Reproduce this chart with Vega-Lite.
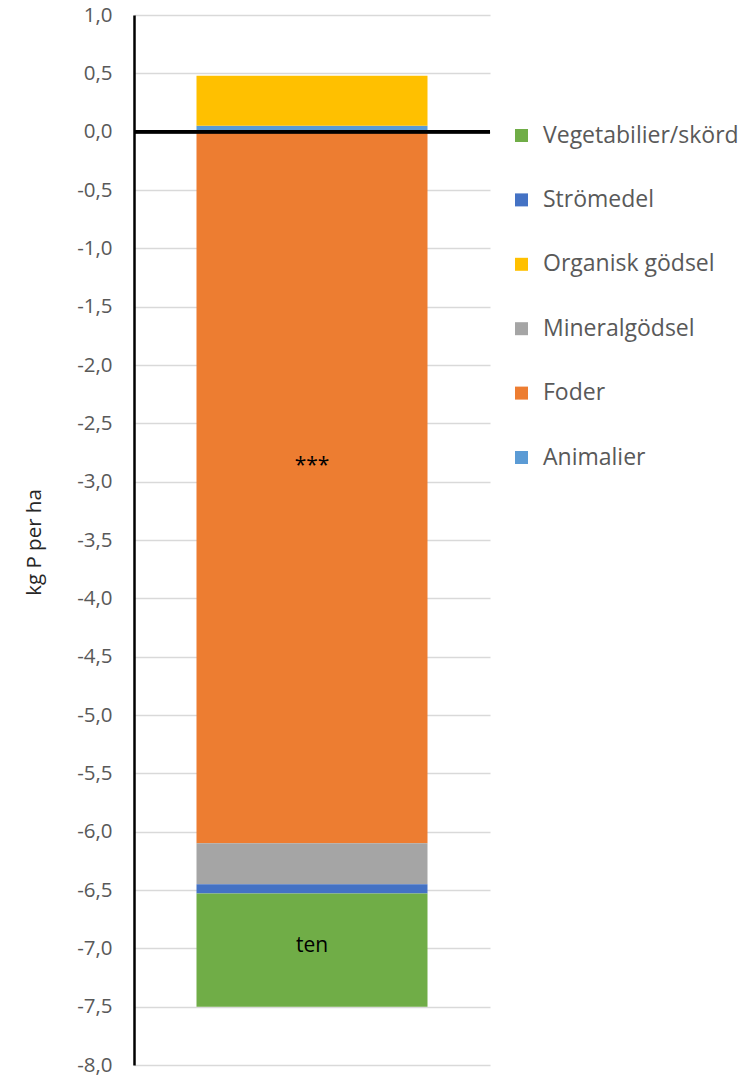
{
  "$schema": "https://vega.github.io/schema/vega-lite/v6.json",
  "autosize": "none",
  "width": 356,
  "height": 1050,
  "padding": {"left": 134, "top": 15, "right": 263, "bottom": 11},
  "background": "white",
  "config": {"view": {"stroke": null}, "font": "Open Sans"},
  "data": {"values": [
    {"serie": "Animalier", "ord": 1, "value": 0.05, "label": ""},
    {"serie": "Foder", "ord": 2, "value": -6.10, "label": "***"},
    {"serie": "Mineralgödsel", "ord": 3, "value": -0.35, "label": ""},
    {"serie": "Organisk gödsel", "ord": 4, "value": 0.43, "label": ""},
    {"serie": "Strömedel", "ord": 5, "value": -0.08, "label": ""},
    {"serie": "Vegetabilier/skörd", "ord": 6, "value": -0.97, "label": "ten"}
  ]},
  "encoding": {
    "x": {"datum": "A", "type": "nominal", "axis": null, "scale": {"paddingInner": 0, "paddingOuter": 0}}
  },
  "layer": [
    {
      "mark": {"type": "bar", "width": 231},
      "encoding": {
        "y": {
          "field": "value", "type": "quantitative", "stack": "zero",
          "scale": {"domain": [-8, 1], "nice": false, "zero": false},
          "axis": {
            "values": [1, 0.5, 0, -0.5, -1, -1.5, -2, -2.5, -3, -3.5, -4, -4.5, -5, -5.5, -6, -6.5, -7, -7.5, -8],
            "labelExpr": "replace(replace(format(datum.value, '.1f'), '.', ','), '\u2212', '-')",
            "labelFontSize": 20.5, "labelColor": "#595959", "labelPadding": 22,
            "ticks": false, "domainColor": "#000000", "domainWidth": 2.5,
            "gridColor": "#d9d9d9", "gridWidth": 1.5,
            "title": "kg P per ha", "titleFontSize": 20.5, "titleFontWeight": "normal",
            "titleColor": "#262626", "titleX": -100, "titleY": 527, "titleAngle": -90,
            "titleAlign": "center", "titleBaseline": "middle"
          }
        },
        "order": {"field": "ord", "type": "quantitative"},
        "color": {
          "field": "serie", "type": "nominal",
          "sort": ["Vegetabilier/skörd", "Strömedel", "Organisk gödsel", "Mineralgödsel", "Foder", "Animalier"],
          "scale": {
            "domain": ["Vegetabilier/skörd", "Strömedel", "Organisk gödsel", "Mineralgödsel", "Foder", "Animalier"],
            "range": ["#70AD47", "#4472C4", "#FFC000", "#A5A5A5", "#ED7D31", "#5B9BD5"]
          },
          "legend": {
            "title": null, "orient": "none", "legendX": 376, "legendY": 109,
            "symbolType": "square", "symbolSize": 169, "symbolStrokeWidth": 0,
            "labelFontSize": 23, "labelColor": "#595959", "labelOffset": 10,
            "rowPadding": 40.4, "padding": 0, "labelLimit": 300
          }
        }
      }
    },
    {
      "transform": [
        {"stack": "value", "groupby": [], "sort": [{"field": "ord"}], "as": ["y0", "y1"], "offset": "zero"},
        {"filter": "datum.label == 'ten'"},
        {"calculate": "(datum.y0 + datum.y1) / 2", "as": "mid"}
      ],
      "mark": {"type": "text", "fontSize": 21, "color": "#000000", "baseline": "middle", "dy": -4},
      "encoding": {
        "y": {"field": "mid", "type": "quantitative"},
        "text": {"field": "label"}
      }
    },
    {
      "transform": [
        {"stack": "value", "groupby": [], "sort": [{"field": "ord"}], "as": ["y0", "y1"], "offset": "zero"},
        {"filter": "datum.label == '***'"},
        {"calculate": "(datum.y0 + datum.y1) / 2", "as": "mid"}
      ],
      "mark": {"type": "text", "fontSize": 21, "color": "#000000", "baseline": "middle", "dy": -22},
      "encoding": {
        "y": {"field": "mid", "type": "quantitative"},
        "text": {"field": "label"}
      }
    },
    {
      "mark": {"type": "rule", "color": "#000000", "strokeWidth": 3},
      "encoding": {"y": {"datum": 0}, "x": {"value": 0}, "x2": {"value": 356}}
    }
  ]
}
